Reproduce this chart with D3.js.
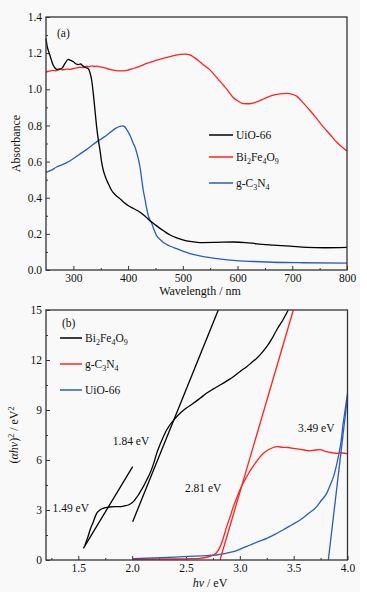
<!DOCTYPE html>
<html>
<head>
<meta charset="utf-8">
<script src="https://cdn.jsdelivr.net/npm/d3@7"></script>
<style>
  html, body { margin: 0; padding: 0; background: #fff; }
  svg { display: block; }
  svg text { font-family: 'Liberation Serif', 'DejaVu Serif', serif !important; fill: #111; }
</style>
</head>
<body>
<script>
// ---- panel (a): absorbance vs wavelength ----
const uioA = [[250,1.28],[252,1.24],[254,1.217],[257,1.19],[260,1.16],[263,1.134],[266,1.12],[269.5,1.11],[274,1.112],[278.7,1.115],[284.7,1.143],[290.7,1.165],[295,1.16],[300,1.152],[305,1.14],[309,1.137],[313,1.14],[318,1.128],[323,1.12],[327,1.115],[330,1.096],[333.5,1.05],[336.4,0.977],[339.5,0.884],[342.6,0.79],[345.6,0.72],[348.7,0.662],[351.5,0.6],[354.7,0.552],[358,0.52],[361,0.496],[365,0.47],[370,0.44],[377,0.415],[385,0.395],[392,0.375],[400,0.357],[410,0.34],[421.8,0.32],[432,0.295],[443,0.265],[454,0.24],[464,0.219],[476,0.195],[488.8,0.178],[500,0.167],[513,0.158],[531,0.152],[560,0.153],[592,0.155],[615,0.152],[635,0.145],[665,0.138],[696,0.132],[726,0.125],[760,0.123],[800,0.125]]
const bfoA = [[250,1.097],[256,1.1],[262,1.105],[268,1.102],[275.6,1.11],[282,1.108],[288,1.112],[294,1.11],[300,1.115],[306,1.118],[312,1.122],[318,1.12],[324,1.128],[329,1.125],[334,1.13],[338,1.126],[342.6,1.128],[352,1.122],[361,1.115],[375,1.105],[388,1.102],[398,1.105],[409.5,1.115],[422,1.128],[434,1.143],[449,1.158],[464,1.171],[480,1.183],[495,1.193],[505,1.195],[513,1.19],[521,1.175],[531,1.152],[540,1.13],[550,1.106],[562,1.065],[574,1.023],[583,0.99],[592,0.955],[601,0.935],[610.5,0.921],[622,0.92],[635,0.93],[650,0.95],[665,0.967],[678,0.975],[690,0.977],[700,0.972],[708,0.962],[720,0.925],[732,0.884],[744,0.84],[756.7,0.792],[769,0.75],[781,0.708],[791,0.68],[800,0.658]]
const cnA = [[250,0.54],[260,0.553],[269.5,0.57],[278,0.58],[287.8,0.594],[297,0.61],[306,0.629],[315,0.648],[324,0.666],[333,0.688],[342.6,0.709],[352,0.728],[361,0.746],[370,0.768],[378,0.785],[385,0.795],[390,0.797],[394,0.792],[397,0.78],[400,0.764],[405,0.735],[409.5,0.7],[412.6,0.681],[417,0.635],[421.8,0.57],[425,0.5],[427.8,0.44],[431,0.39],[434,0.34],[437,0.3],[440,0.275],[443,0.26],[447,0.225],[452,0.19],[458,0.17],[464,0.154],[476,0.133],[488.8,0.118],[500,0.105],[513,0.09],[531,0.078],[550,0.068],[570,0.06],[592,0.053],[630,0.047],[665,0.043],[720,0.04],[800,0.038]]
const ticksWl = [300, 400, 500, 600, 700, 800]
const ticksAbs = [0, 0.2, 0.4, 0.6, 0.8, 1.0, 1.2, 1.4]

// ---- panel (b): Tauc plot ----
const bfoB = [[1.562,0.9],[1.59,1.4],[1.609,1.8],[1.64,2.3],[1.67,2.8],[1.7,3.0],[1.73,3.1],[1.79,3.18],[1.84,3.2],[1.887,3.2],[1.93,3.25],[1.965,3.3],[2.011,3.5],[2.035,3.7],[2.058,3.9],[2.08,4.15],[2.104,4.4],[2.135,4.8],[2.166,5.2],[2.2,5.8],[2.228,6.4],[2.26,6.95],[2.29,7.4],[2.32,7.8],[2.35,8.1],[2.4,8.5],[2.445,8.8],[2.5,9.1],[2.568,9.4],[2.63,9.7],[2.69,10.0],[2.75,10.25],[2.816,10.5],[2.88,10.75],[2.94,11.0],[3.0,11.3],[3.064,11.6],[3.11,11.85],[3.157,12.1],[3.2,12.4],[3.25,12.8],[3.3,13.3],[3.342,13.8],[3.4,14.4],[3.45,15.0]]
const cnB = [[2.005,0.04],[2.2,0.05],[2.4,0.06],[2.55,0.08],[2.63,0.1],[2.68,0.15],[2.72,0.22],[2.76,0.32],[2.785,0.45],[2.81,0.7],[2.83,1.0],[2.855,1.5],[2.878,2.0],[2.91,2.6],[2.94,3.2],[2.97,3.7],[3.0,4.2],[3.03,4.6],[3.064,5.0],[3.095,5.35],[3.126,5.65],[3.16,5.95],[3.19,6.2],[3.22,6.4],[3.25,6.55],[3.3,6.72],[3.35,6.8],[3.4,6.76],[3.45,6.75],[3.5,6.7],[3.55,6.65],[3.6,6.6],[3.65,6.55],[3.7,6.6],[3.75,6.62],[3.78,6.55],[3.8,6.5],[3.85,6.45],[3.9,6.4],[3.95,6.42],[4.0,6.38]]
const uioB = [[2.005,0.08],[2.2,0.12],[2.476,0.2],[2.65,0.25],[2.785,0.3],[2.87,0.4],[2.94,0.5],[3.02,0.7],[3.095,0.9],[3.17,1.1],[3.25,1.3],[3.33,1.55],[3.4,1.8],[3.48,2.1],[3.56,2.4],[3.64,2.8],[3.714,3.2],[3.76,3.6],[3.807,4.0],[3.84,4.5],[3.87,5.0],[3.895,5.6],[3.915,6.2],[3.94,7.1],[3.96,8.2],[3.98,9.1],[4.0,10.0]]
const tangentsBfo = [[[1.547,0.7],[2.005,5.6]], [[2.005,2.3],[2.8,15]]]
const tangentCn = [[2.816,0],[3.497,15]]
const tangentUio = [[3.822,0],[4.0,9.8]]
const gapLabels = [
  { text: '1.84 eV', x: 1.99, y: 6.9 },
  { text: '1.49 eV', x: 1.43, y: 2.9 },
  { text: '2.81 eV', x: 2.66, y: 4.1 },
  { text: '3.49 eV', x: 3.71, y: 7.7 }
]
const ticksHv = [1.5, 2.0, 2.5, 3.0, 3.5, 4.0]
const ticksTauc = [0, 3, 6, 9, 12, 15]

const BLACK = '#000', RED = '#ff2222', BLUE = '#2a5cbc'

const svg = d3.select('body').append('svg')
  .attr('width', 367).attr('height', 592)

svg.append('rect').attr('width', 360).attr('height', 592).attr('fill', '#f9f9f9')

function frame(g, W, H) {
  g.append('rect')
    .attr('width', W).attr('height', H)
    .attr('fill', 'none').attr('stroke', '#333').attr('stroke-width', 1.3)
}

function styleAxis(sel) {
  sel.attr('font-family', null)
  sel.select('.domain').remove()
  sel.selectAll('.tick line').attr('stroke', '#333').attr('stroke-width', 1)
  sel.selectAll('.tick text')
    .style('font-size', '11.5px').attr('fill', '#111')
}

function addText(g, x, y, parts, size) {
  const t = g.append('text').attr('x', x).attr('y', y).style('font-size', size)
  let prevSub = false
  parts.forEach(([s, sub]) => {
    const dy = sub && !prevSub ? 3 : (!sub && prevSub ? -3 : 0)
    t.append('tspan').text(s).attr('dy', dy).style('font-size', sub ? '8px' : null)
    prevSub = sub
  })
  return t
}

const nameUio = [['UiO-66', false]]
const nameBfo = [['Bi', false], ['2', true], ['Fe', false], ['4', true], ['O', false], ['9', true]]
const nameCn = [['g-C', false], ['3', true], ['N', false], ['4', true]]

// ================= Panel (a) =================
{
  const left = 46, top = 17, W = 301, H = 253
  const g = svg.append('g').attr('transform', `translate(${left},${top})`)
  const x = d3.scaleLinear().domain([250, 800]).range([0, W])
  const y = d3.scaleLinear().domain([0, 1.4]).range([H, 0])

  g.append('g').attr('transform', `translate(0,${H})`)
    .call(d3.axisBottom(x).tickValues(ticksWl).tickSize(-4).tickPadding(4).tickFormat(d3.format('d')))
    .call(styleAxis)
  g.append('g').attr('transform', `translate(0,${H})`)
    .call(d3.axisBottom(x).tickValues(d3.range(350, 800, 100)).tickSize(-2).tickFormat(''))
    .call(styleAxis)
  g.append('g')
    .call(d3.axisLeft(y).tickValues(ticksAbs).tickSize(-4).tickPadding(4).tickFormat(d3.format('.1f')))
    .call(styleAxis)
  g.append('g')
    .call(d3.axisLeft(y).tickValues(d3.range(0.1, 1.4, 0.2)).tickSize(-2).tickFormat(''))
    .call(styleAxis)

  const line = d3.line().x(d => x(d[0])).y(d => y(d[1])).curve(d3.curveMonotoneX)
  ;[[bfoA, RED], [cnA, BLUE], [uioA, BLACK]].forEach(([data, c]) => {
    g.append('path').datum(data).attr('d', line)
      .attr('fill', 'none').attr('stroke', c).attr('stroke-width', 1.3)
  })

  frame(g, W, H)

  g.append('text').attr('x', 11).attr('y', 20).style('font-size', '11.5px').text('(a)')

  // legend
  const leg = [[nameUio, BLACK, 118], [nameBfo, RED, 140], [nameCn, BLUE, 166]]
  leg.forEach(([parts, c, ly]) => {
    g.append('line').attr('x1', 163).attr('x2', 187).attr('y1', ly).attr('y2', ly)
      .attr('stroke', c).attr('stroke-width', 1.5)
    addText(g, 190, ly + 4, parts, '11.5px')
  })

  svg.append('text').attr('x', 200).attr('y', 295).attr('text-anchor', 'middle')
    .style('font-size', '12px').text('Wavelength / nm')
  svg.append('text').attr('transform', `translate(20,${top + H / 2}) rotate(-90)`)
    .attr('text-anchor', 'middle').style('font-size', '12px').text('Absorbance')
}

// ================= Panel (b) =================
{
  const left = 46, top = 310, W = 301.5, H = 250
  const g = svg.append('g').attr('transform', `translate(${left},${top})`)
  const x = d3.scaleLinear().domain([1.2, 4.0]).range([0, W])
  const y = d3.scaleLinear().domain([0, 15]).range([H, 0])

  g.append('g').attr('transform', `translate(0,${H})`)
    .call(d3.axisBottom(x).tickValues(ticksHv).tickSize(-4).tickPadding(4).tickFormat(d3.format('.1f')))
    .call(styleAxis)
  g.append('g').attr('transform', `translate(0,${H})`)
    .call(d3.axisBottom(x).tickValues([1.25, 1.75, 2.25, 2.75, 3.25, 3.75]).tickSize(-2).tickFormat(''))
    .call(styleAxis)
  g.append('g')
    .call(d3.axisLeft(y).tickValues(ticksTauc).tickSize(-4).tickPadding(4).tickFormat(d3.format('d')))
    .call(styleAxis)
  g.append('g')
    .call(d3.axisLeft(y).tickValues([1.5, 4.5, 7.5, 10.5, 13.5]).tickSize(-2).tickFormat(''))
    .call(styleAxis)

  const line = d3.line().x(d => x(d[0])).y(d => y(d[1])).curve(d3.curveMonotoneX)
  const straight = d3.line().x(d => x(d[0])).y(d => y(d[1]))

  ;[[uioB, BLUE], [cnB, RED], [bfoB, BLACK]].forEach(([data, c]) => {
    g.append('path').datum(data).attr('d', line)
      .attr('fill', 'none').attr('stroke', c).attr('stroke-width', 1.3)
  })
  tangentsBfo.forEach(seg => {
    g.append('path').datum(seg).attr('d', straight)
      .attr('fill', 'none').attr('stroke', BLACK).attr('stroke-width', 1.3)
  })
  g.append('path').datum(tangentCn).attr('d', straight)
    .attr('fill', 'none').attr('stroke', RED).attr('stroke-width', 1.3)
  g.append('path').datum(tangentUio).attr('d', straight)
    .attr('fill', 'none').attr('stroke', BLUE).attr('stroke-width', 1.3)

  frame(g, W, H)

  g.append('text').attr('x', 16).attr('y', 17).style('font-size', '11.5px').text('(b)')

  const leg = [[nameBfo, BLACK, 28], [nameCn, RED, 54], [nameUio, BLUE, 80]]
  leg.forEach(([parts, c, ly]) => {
    g.append('line').attr('x1', 14).attr('x2', 36).attr('y1', ly).attr('y2', ly)
      .attr('stroke', c).attr('stroke-width', 1.5)
    addText(g, 39, ly + 4, parts, '11.5px')
  })

  gapLabels.forEach(d => {
    g.append('text').attr('x', x(d.x)).attr('y', y(d.y)).attr('text-anchor', 'middle')
      .style('font-size', '11.5px').text(d.text)
  })

  const xl = svg.append('text').attr('x', 210).attr('y', 587).attr('text-anchor', 'middle')
    .style('font-size', '12px')
  xl.append('tspan').style('font-style', 'italic').text('hν')
  xl.append('tspan').text(' / eV')

  const yl = svg.append('text').attr('transform', `translate(18,${top + H / 2}) rotate(-90)`)
    .attr('text-anchor', 'middle').style('font-size', '12px')
  yl.append('tspan').text('(')
  yl.append('tspan').style('font-style', 'italic').text('αhν')
  yl.append('tspan').text(')')
  yl.append('tspan').attr('dy', -4).style('font-size', '8px').text('2')
  yl.append('tspan').attr('dy', 4).text(' / eV')
  yl.append('tspan').attr('dy', -4).style('font-size', '8px').text('2')
}
</script>
</body>
</html>
